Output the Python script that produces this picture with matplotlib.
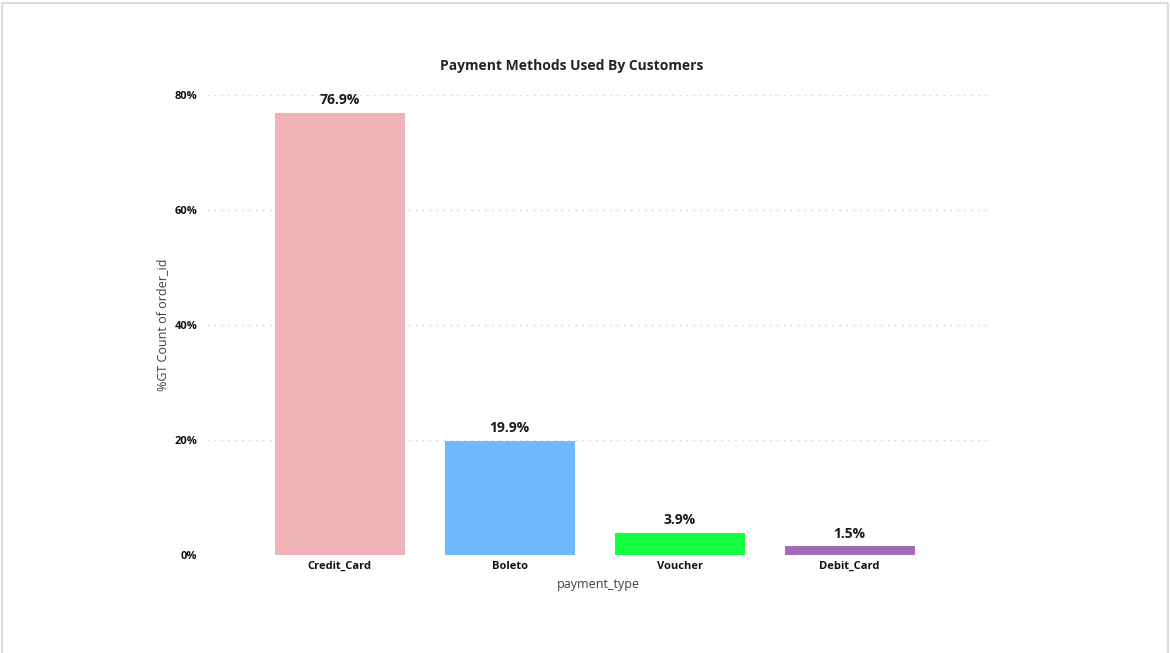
import matplotlib.pyplot as plt
from matplotlib.patches import Rectangle
from matplotlib.ticker import FuncFormatter

categorias = ["Credit_Card", "Boleto", "Voucher", "Debit_Card"]
percentuais = [76.9, 19.9, 3.9, 1.5]
cores = ["#F0B4B8", "#6FBAFF", "#13FF3F", "#A66BB6"]
ticks_y = [0, 20, 40, 60, 80]

plt.rcParams['font.family'] = ['Open Sans', 'DejaVu Sans']

fig = plt.figure(figsize=(11.7, 6.53), dpi=100)
fig.patches.append(Rectangle((0.002, -0.01), 0.996, 1.005, transform=fig.transFigure,
                             fill=False, edgecolor="#DCDCDC", linewidth=1.5))

ax = fig.add_axes([0.1769, 0.1501, 0.6684, 0.7044])
x = range(len(categorias))
ax.bar(x, percentuais, width=0.765, color=cores, zorder=2)

for xi, v in zip(x, percentuais):
    ax.annotate(f"{v}%", (xi, v), xytext=(0, 4), textcoords="offset points",
                ha="center", va="bottom", fontsize=10, fontweight="bold", color="#1a1a1a")

ax.set_xlim(-0.78, 3.82)
ax.set_ylim(0, 80)
ax.set_yticks(ticks_y)
ax.yaxis.set_major_formatter(FuncFormatter(lambda v, p: f"{v:.0f}%"))
ax.set_xticks(list(x))
ax.set_xticklabels(categorias)
for lbl in ax.get_xticklabels() + ax.get_yticklabels():
    lbl.set_fontweight("bold")
    lbl.set_fontsize(8)
    lbl.set_color("#111111")
ax.tick_params(length=0, pad=4)
ax.tick_params(axis="y", pad=7)

ax.grid(axis="y", color="#D0D0D0", linestyle=(0, (1, 4)), linewidth=1, zorder=0)
ax.set_axisbelow(True)
for s in ax.spines.values():
    s.set_visible(False)

ax.set_xlabel("payment_type", fontsize=9, color="#404040", labelpad=5)
ax.set_ylabel("%GT Count of order_id", fontsize=9, color="#404040", labelpad=3.5)
fig.text(0.489, 0.899, "Payment Methods Used By Customers", ha="center", va="center",
         fontsize=10, fontweight="bold", color="#252423")

plt.savefig("out.png", dpi=100)
plt.close()
